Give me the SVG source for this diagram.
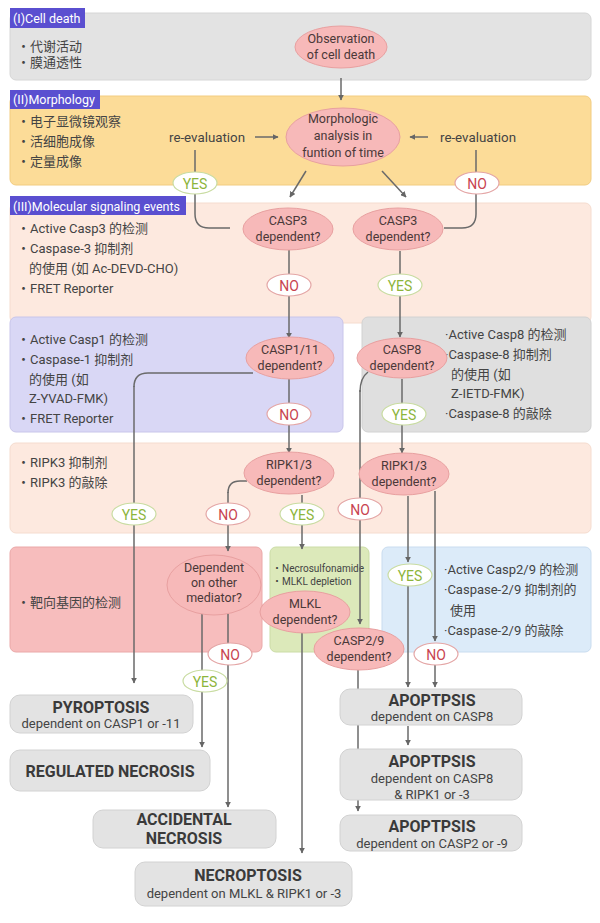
<svg xmlns="http://www.w3.org/2000/svg" width="600" height="923" viewBox="0 0 600 923">
<defs>
<marker id="ah" viewBox="0 0 10 10" refX="9" refY="5" markerWidth="6" markerHeight="6" orient="auto" markerUnits="userSpaceOnUse"><path d="M0,0 L10,5 L0,10 z" fill="#666"/></marker>
</defs>
<style>
text{font-family:Roboto,"Noto Sans CJK SC","Liberation Sans",sans-serif;}
.lbl{fill:#5a4fd0;}
.lt{fill:#fff;font-size:12.5px;}
.bt{fill:#444;font-size:13px;}
.sm{fill:#444;font-size:10px;}
.el{fill:#f7b9b9;stroke:#e8a0a0;stroke-width:1;}
.et{fill:#4a3838;font-size:12.5px;text-anchor:middle;}
.yes{fill:#fff;stroke:#c9dca2;stroke-width:1.2;}
.yt{fill:#8db53c;font-size:14px;text-anchor:middle;}
.no{fill:#fff;stroke:#e4a6a6;stroke-width:1.2;}
.nt{fill:#c84450;font-size:14px;text-anchor:middle;}
.ob{fill:#e3e3e3;stroke:#d2d2d2;stroke-width:1;}
.ot{fill:#3a3a3a;font-size:16px;font-weight:bold;text-anchor:middle;}
.os{fill:#444;font-size:13px;text-anchor:middle;}
.c{fill:none;stroke:#6a6a6a;stroke-width:1.5;}
.ca{fill:none;stroke:#6a6a6a;stroke-width:1.5;marker-end:url(#ah);}
</style>

<!-- section backgrounds -->
<g id="sec1">
<rect x="10" y="13" width="581" height="67" rx="6" fill="#e3e3e3" stroke="#d6d6d6"/>
<rect x="10" y="8" width="75" height="20" class="lbl"/>
<text x="13" y="22.5" class="lt">(I)Cell death</text>
<text x="17" y="51" class="bt">・代谢活动</text>
<text x="17" y="67" class="bt">・膜通透性</text>
</g>
<g id="sec2">
<rect x="10" y="96" width="581" height="89" rx="6" fill="#fcdc98" stroke="#f2cc80"/>
<rect x="10" y="90" width="90" height="19" class="lbl"/>
<text x="13" y="104" class="lt">(II)Morphology</text>
<text x="17" y="126" class="bt">・电子显微镜观察</text>
<text x="17" y="146" class="bt">・活细胞成像</text>
<text x="17" y="166" class="bt">・定量成像</text>
<text x="169" y="142" class="bt" font-size="13.5" textLength="76" lengthAdjust="spacingAndGlyphs">re-evaluation</text>
<text x="440" y="142" class="bt" font-size="13.5" textLength="76" lengthAdjust="spacingAndGlyphs">re-evaluation</text>
</g>
<g id="sec3">
<rect x="10" y="203" width="581" height="120" rx="6" fill="#fde9df" stroke="#f5dccf"/>
<rect x="10" y="196" width="176" height="19" class="lbl"/>
<text x="13" y="210.5" class="lt">(III)Molecular signaling events</text>
<text x="17" y="233" class="bt">・Active Casp3 的检测</text>
<text x="17" y="253" class="bt">・Caspase-3 抑制剂</text>
<text x="29" y="273" class="bt">的使用 (如 Ac-DEVD-CHO)</text>
<text x="17" y="293" class="bt">・FRET Reporter</text>
</g>
<g id="sec4a">
<rect x="10" y="317" width="333" height="115" rx="6" fill="#d9d7f5" stroke="#c8c5ea"/>
<text x="17" y="344" class="bt">・Active Casp1 的检测</text>
<text x="17" y="364" class="bt">・Caspase-1 抑制剂</text>
<text x="29" y="384" class="bt">的使用 (如</text>
<text x="29" y="403" class="bt">Z-YVAD-FMK)</text>
<text x="17" y="423" class="bt">・FRET Reporter</text>
</g>
<g id="sec4b">
<rect x="362" y="317" width="229" height="115" rx="6" fill="#dfdfdf" stroke="#d2d2d2"/>
<text x="445" y="339" class="bt">·Active Casp8 的检测</text>
<text x="445" y="359" class="bt">·Caspase-8 抑制剂</text>
<text x="451" y="379" class="bt">的使用 (如</text>
<text x="451" y="398" class="bt">Z-IETD-FMK)</text>
<text x="445" y="418" class="bt">·Caspase-8 的敲除</text>
</g>
<g id="sec5">
<rect x="10" y="443" width="581" height="90" rx="6" fill="#fde9df" stroke="#f5dccf"/>
<text x="17" y="467" class="bt">・RIPK3 抑制剂</text>
<text x="17" y="487" class="bt">・RIPK3 的敲除</text>
</g>
<g id="sec6a">
<rect x="10" y="547" width="252" height="105" rx="6" fill="#f7bdbd" stroke="#eaa8a8"/>
<text x="17" y="607" class="bt">・靶向基因的检测</text>
</g>
<g id="sec6b">
<rect x="270" y="547" width="99" height="105" rx="6" fill="#dce9ba" stroke="#cbdca6"/>
<text x="272" y="572" class="sm">・Necrosulfonamide</text>
<text x="272" y="585" class="sm">・MLKL depletion</text>
</g>
<g id="sec6c">
<rect x="382" y="547" width="209" height="105" rx="6" fill="#dcebf9" stroke="#c9dcef"/>
<text x="444" y="574" class="bt">·Active Casp2/9 的检测</text>
<text x="444" y="594" class="bt">·Caspase-2/9 抑制剂的</text>
<text x="450" y="615" class="bt">使用</text>
<text x="444" y="635" class="bt">·Caspase-2/9 的敲除</text>
</g>

<!-- connectors -->
<g id="connectors">
<path class="ca" d="M341,78 V100"/>
<path class="ca" d="M255,137 H278"/>
<path class="ca" d="M428,137 H410"/>
<path class="c" d="M195,150 V214 Q195,228 209,228 H230"/>
<path class="c" d="M476,150 V214 Q476,228 462,228 H444"/>
<path class="ca" d="M306,171 L290,197"/>
<path class="ca" d="M382,171 L406,197"/>
<path class="ca" d="M289,250 V338"/>
<path class="ca" d="M400,251 V337"/>
<path class="c" d="M253,373 H148 Q134,373 134,387"/>
<path class="ca" d="M134,386 V683"/>
<path class="ca" d="M289,379 V453"/>
<path class="ca" d="M402,379 V453"/>
<path class="c" d="M368,372 Q360,378 360,392"/>
<path class="ca" d="M360,390 V624"/>
<path class="c" d="M247,481 H240 Q228,481 228,493"/>
<path class="ca" d="M228,492 V551"/>
<path class="ca" d="M302,495 V549"/>
<path class="ca" d="M408,496 V562"/>
<path class="ca" d="M408,586 V687"/>
<path class="ca" d="M435,491 V641"/>
<path class="ca" d="M435,665 V687"/>
<path class="ca" d="M202,614 V747"/>
<path class="ca" d="M228,614 V807"/>
<path class="ca" d="M302,633 V853"/>
<path class="ca" d="M358,670 V811"/>
<path class="ca" d="M408,726 V745"/>
</g>

<!-- decision nodes -->
<g id="n-observe"><ellipse cx="341" cy="47" rx="46" ry="21" class="el"/><text x="341" y="43" class="et">Observation</text><text x="341" y="59" class="et">of cell death</text></g>
<g id="n-morph"><ellipse cx="343" cy="137" rx="57" ry="29" class="el"/><text x="343" y="123" class="et">Morphologic</text><text x="343" y="140" class="et">analysis in</text><text x="343" y="157" class="et">funtion of time</text></g>
<g id="yes1"><ellipse cx="195" cy="183" rx="22" ry="11" class="yes"/><text x="195" y="188.5" class="yt">YES</text></g>
<g id="no1"><ellipse cx="477" cy="183" rx="22" ry="11" class="no"/><text x="477" y="188.5" class="nt">NO</text></g>
<g id="n-casp3a"><ellipse cx="288" cy="229" rx="45" ry="21" class="el"/><text x="288" y="225" class="et">CASP3</text><text x="288" y="241" class="et">dependent?</text></g>
<g id="n-casp3b"><ellipse cx="398" cy="229" rx="45" ry="21" class="el"/><text x="398" y="225" class="et">CASP3</text><text x="398" y="241" class="et">dependent?</text></g>
<g id="no2"><ellipse cx="289" cy="285" rx="22" ry="11" class="no"/><text x="289" y="290.5" class="nt">NO</text></g>
<g id="yes2"><ellipse cx="400" cy="285" rx="22" ry="11" class="yes"/><text x="400" y="290.5" class="yt">YES</text></g>
<g id="n-casp1"><ellipse cx="290" cy="358" rx="44" ry="21" class="el"/><text x="290" y="354" class="et">CASP1/11</text><text x="290" y="370" class="et">dependent?</text></g>
<g id="n-casp8"><ellipse cx="402" cy="358" rx="45" ry="20" class="el"/><text x="402" y="354" class="et">CASP8</text><text x="402" y="370" class="et">dependent?</text></g>
<g id="no3"><ellipse cx="289" cy="414" rx="22" ry="11" class="no"/><text x="289" y="419.5" class="nt">NO</text></g>
<g id="yes3"><ellipse cx="404" cy="414" rx="22" ry="11" class="yes"/><text x="404" y="419.5" class="yt">YES</text></g>
<g id="n-ripka"><ellipse cx="289" cy="473" rx="45" ry="21" class="el"/><text x="289" y="469" class="et">RIPK1/3</text><text x="289" y="485" class="et">dependent?</text></g>
<g id="n-ripkb"><ellipse cx="404" cy="474" rx="45" ry="21" class="el"/><text x="404" y="470" class="et">RIPK1/3</text><text x="404" y="486" class="et">dependent?</text></g>
<g id="yes4"><ellipse cx="134" cy="514" rx="22" ry="11" class="yes"/><text x="134" y="519.5" class="yt">YES</text></g>
<g id="no4"><ellipse cx="228" cy="514" rx="22" ry="11" class="no"/><text x="228" y="519.5" class="nt">NO</text></g>
<g id="yes5"><ellipse cx="302" cy="514" rx="22" ry="11" class="yes"/><text x="302" y="519.5" class="yt">YES</text></g>
<g id="no5"><ellipse cx="360" cy="509" rx="22" ry="11" class="no"/><text x="360" y="514.5" class="nt">NO</text></g>
<g id="yes6"><ellipse cx="410" cy="575" rx="22" ry="11" class="yes"/><text x="410" y="580.5" class="yt">YES</text></g>
<g id="n-other"><ellipse cx="214" cy="585" rx="47" ry="30" class="el"/><text x="214" y="572" class="et">Dependent</text><text x="214" y="587" class="et">on other</text><text x="214" y="602" class="et">mediator?</text></g>
<g id="n-mlkl"><ellipse cx="305" cy="612" rx="45" ry="21" class="el"/><text x="305" y="608" class="et">MLKL</text><text x="305" y="624" class="et">dependent?</text></g>
<g id="n-casp29"><ellipse cx="359" cy="649" rx="45" ry="21" class="el"/><text x="359" y="645" class="et">CASP2/9</text><text x="359" y="661" class="et">dependent?</text></g>
<g id="no6"><ellipse cx="230" cy="654" rx="22" ry="11" class="no"/><text x="230" y="659.5" class="nt">NO</text></g>
<g id="no7"><ellipse cx="436" cy="654" rx="22" ry="11" class="no"/><text x="436" y="659.5" class="nt">NO</text></g>
<g id="yes7"><ellipse cx="205" cy="681" rx="22" ry="11" class="yes"/><text x="205" y="686.5" class="yt">YES</text></g>

<!-- outcomes -->
<g id="o-pyro"><rect x="10" y="695" width="183" height="38" rx="10" class="ob"/><text x="101" y="713" class="ot">PYROPTOSIS</text><text x="101" y="728" class="os">dependent on CASP1 or -11</text></g>
<g id="o-reg"><rect x="10" y="750" width="200" height="41" rx="10" class="ob"/><text x="110" y="777" class="ot" font-size="17">REGULATED NECROSIS</text></g>
<g id="o-acc"><rect x="93" y="810" width="183" height="38" rx="10" class="ob"/><text x="184" y="825" class="ot" font-size="14.5">ACCIDENTAL</text><text x="184" y="843.5" class="ot" font-size="14.5">NECROSIS</text></g>
<g id="o-necro"><rect x="135" y="862" width="217" height="44" rx="10" class="ob"/><text x="248" y="881" class="ot">NECROPTOSIS</text><text x="244" y="898" class="os">dependent on MLKL &amp; RIPK1 or -3</text></g>
<g id="o-apo1"><rect x="340" y="689" width="182" height="36" rx="10" class="ob"/><text x="432" y="706" class="ot">APOPTPSIS</text><text x="432" y="721" class="os">dependent on CASP8</text></g>
<g id="o-apo2"><rect x="340" y="749" width="182" height="51" rx="10" class="ob"/><text x="432" y="767" class="ot">APOPTPSIS</text><text x="432" y="783" class="os">dependent on CASP8</text><text x="432" y="799" class="os">&amp; RIPK1 or -3</text></g>
<g id="o-apo3"><rect x="340" y="815" width="182" height="36" rx="10" class="ob"/><text x="432" y="832" class="ot">APOPTPSIS</text><text x="432" y="848" class="os">dependent on CASP2 or -9</text></g>
</svg>
